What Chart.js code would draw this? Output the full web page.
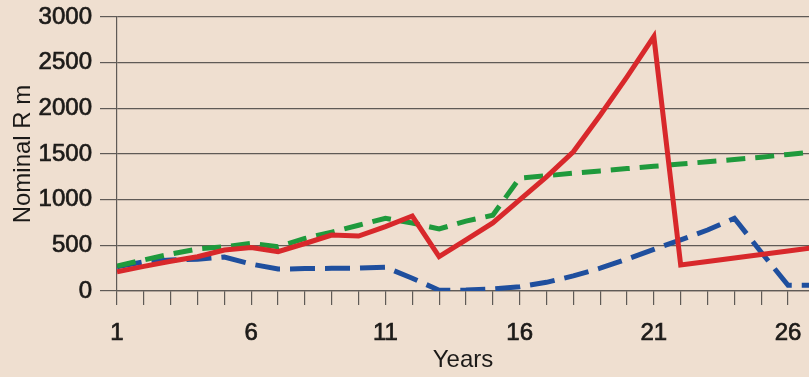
<!DOCTYPE html>
<html lang="en">
<head>
    <meta charset="UTF-8">
    <title>Nominal R m by year</title>
    <script src="https://cdn.jsdelivr.net/npm/chart.js"></script>
    <style>
        html, body {
            margin: 0;
            padding: 0;
            background: #efdfd0;
        }
        #chart {
            display: block;
        }
    </style>
</head>
<body>
    <canvas id="chart" width="809" height="377"></canvas>
    <script>
    // values, one entry per year
    const years = [1, 2, 3, 4, 5, 6, 7, 8, 9, 10, 11, 12, 13, 14, 15, 16, 17, 18, 19, 20, 21, 22, 23, 24, 25, 26, 27];
    const redSeries = [211, 270, 325, 375, 449, 475, 430, 520, 613, 602, 705, 821, 376, 560, 745, 997, 1250, 1525, 1925, 2345, 2785, 285, 323, 361, 400, 438, 476];
    const greenSeries = [274, 340, 405, 460, 485, 522, 485, 575, 645, 720, 796, 744, 679, 765, 830, 1237, 1262, 1290, 1315, 1340, 1365, 1390, 1415, 1440, 1465, 1495, 1525];
    const blueSeries = [266, 320, 340, 347, 372, 295, 240, 245, 248, 250, 259, 140, 8, 10, 22, 47, 95, 165, 250, 350, 456, 560, 668, 796, 425, 62, 62];
    const labelledYears = [1, 6, 11, 16, 21, 26];

    const gridColour = '#5f5a56';
    const textColour = '#1c1a18';
    const fontFamily = '"Liberation Sans", Arial, sans-serif';

    function toPoints(values) {
        return years.map((year, i) => ({ x: year, y: values[i] }));
    }

    new Chart(document.getElementById('chart'), {
        type: 'line',
        data: {
            datasets: [
                {
                    label: 'Red',
                    data: toPoints(redSeries),
                    borderColor: '#d8282b',
                    borderWidth: 5,
                    borderJoinStyle: 'miter',
                    pointRadius: 0,
                    tension: 0
                },
                {
                    label: 'Green',
                    data: toPoints(greenSeries),
                    borderColor: '#1f9a3c',
                    borderWidth: 5,
                    borderDash: [19, 10],
                    pointRadius: 0,
                    tension: 0
                },
                {
                    label: 'Blue',
                    data: toPoints(blueSeries),
                    borderColor: '#1f4f9e',
                    borderWidth: 5,
                    borderDash: [25, 10],
                    pointRadius: 0,
                    tension: 0
                }
            ]
        },
        options: {
            responsive: false,
            animation: false,
            layout: { padding: { top: 17, right: 0, left: 0, bottom: 0 } },
            plugins: {
                legend: { display: false },
                tooltip: { enabled: false }
            },
            scales: {
                x: {
                    type: 'linear',
                    min: 1,
                    max: 26.78,
                    afterFit: scale => {
                        scale.height = 86;
                        scale.paddingLeft = 0;
                        scale.paddingRight = 0;
                    },
                    ticks: {
                        stepSize: 1,
                        includeBounds: false,
                        autoSkip: false,
                        maxRotation: 0,
                        padding: 14,
                        color: textColour,
                        textStrokeColor: textColour,
                        textStrokeWidth: 0.7,
                        font: { family: fontFamily, size: 24 },
                        callback: v => labelledYears.includes(v) ? String(v) : ''
                    },
                    grid: {
                        drawOnChartArea: false,
                        drawTicks: true,
                        tickLength: 14,
                        color: gridColour,
                        lineWidth: 1.2
                    },
                    border: { color: gridColour, width: 1.2 },
                    title: {
                        display: true,
                        text: 'Years',
                        color: textColour,
                        font: { family: fontFamily, size: 24 },
                        padding: { top: 0, bottom: 2 }
                    }
                },
                y: {
                    min: 0,
                    max: 3000,
                    afterFit: scale => {
                        scale.width = 117;
                        scale.paddingTop = 0;
                        scale.paddingBottom = 0;
                    },
                    ticks: {
                        stepSize: 500,
                        padding: 8,
                        color: textColour,
                        textStrokeColor: textColour,
                        textStrokeWidth: 0.7,
                        font: { family: fontFamily, size: 24 },
                        callback: v => String(v)
                    },
                    grid: {
                        color: gridColour,
                        lineWidth: 1.2,
                        tickLength: 17
                    },
                    border: { color: gridColour, width: 1.2 },
                    title: {
                        display: true,
                        text: 'Nominal R m',
                        color: textColour,
                        font: { family: fontFamily, size: 24 },
                        padding: { top: 9, bottom: 0 }
                    }
                }
            }
        }
    });
    </script>
</body>
</html>
